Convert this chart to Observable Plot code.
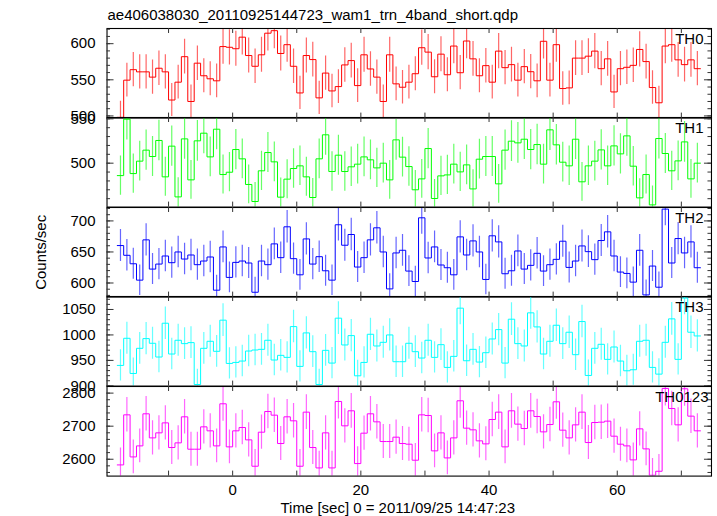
<!DOCTYPE html>
<html><head><meta charset="utf-8">
<script src="https://cdn.jsdelivr.net/npm/d3@7"></script>
<script src="https://cdn.jsdelivr.net/npm/@observablehq/plot@0.6"></script>
<style>
html,body{margin:0;padding:0;background:#fff;}
#chart{position:relative;width:717px;height:516px;overflow:hidden;}
</style></head><body><div id="chart"></div>
<script>
const title = "ae406038030_20110925144723_wam1_trn_4band_short.qdp";
const xLabel = "Time [sec] 0 = 2011/09/25 14:47:23";
const yLabel = "Counts/sec";
const bandNames = ["TH0", "TH1", "TH2", "TH3", "TH0123"];
const bandColors = ["#ff0000", "#00ff00", "#0000ff", "#00ffff", "#ff00ff"];

const timeCenters = [-17.5,-16.5,-15.5,-14.5,-13.5,-12.5,-11.5,-10.5,-9.5,-8.5,-7.5,-6.5,-5.5,-4.5,-3.5,-2.5,-1.5,-0.5,
 0.5,1.5,2.5,3.5,4.5,5.5,6.5,7.5,8.5,9.5,10.5,11.5,12.5,13.5,14.5,15.5,16.5,17.5,18.5,19.5,20.5,21.5,22.5,23.5,24.5,25.5,
 26.5,27.5,28.5,29.5,30.5,31.5,32.5,33.5,34.5,35.5,36.5,37.5,38.5,39.5,40.5,41.5,42.5,43.5,44.5,45.5,46.5,47.5,48.5,49.5,
 50.5,51.5,52.5,53.5,54.5,55.5,56.5,57.5,58.5,59.5,60.5,61.5,62.5,63.5,64.5,65.5,66.5,67.5,68.5,69.5,70.5,71.5,72.5];

const th0 = [498,549.5,564,561,561,553.7,566,561,522,546.7,
 582,520,573,555.6,551.4,548.6,596,595,593,609,
 583.6,568.7,584.6,614.5,618,586.4,598.6,568.7,531.8,583.6,
 578,525,559.3,534.6,540.6,570.6,576.6,542,584.6,565,
 553.7,520,584.6,544.4,539.7,546.7,558.4,594.4,588.3,554.2,
 585.5,557,596.7,559.8,603.7,579,555.6,569.6,546.7,589.7,
 566.8,571,549.5,568.2,561.2,548.6,603.3,549.5,598.6,537.9,
 538.8,580,580,582.7,589.7,565.4,579,533.2,565.4,567.3,
 570,592,575.2,539.3,518.2,596.7,598.6,577.6,571,577.6,
 565.4];
const th1 = [486,549.6,488.3,502.3,514.7,507.5,525.6,484.6,519.2,462,
 527.4,481.2,525.2,533.8,507.1,538.3,487.2,489.8,515.4,504.9,
 476,456.8,491.4,512,501.5,461.7,482,494,497,484.6,
 461.3,504.9,532,490.6,509,490.6,495.9,498.9,507.1,503.8,
 494.7,500,481.2,526.3,506.8,496.2,470,482.3,516.5,460.2,
 485.7,486.8,498.9,490.2,498.1,471,504.5,507.5,507.5,476.7,
 514.7,524.8,522.9,527,515.4,521,498.9,537.6,520.7,501.1,
 497,527,479,497,502.3,515,497,519.5,510.5,530.8,
 496.6,460.9,487.2,453,527.8,510.9,491.4,502.6,524,482.3,
 500];
const th2 = [660.3,644.6,631,604.6,669.5,622.4,630.5,643.5,632.7,650,
 638.6,645.1,629.5,635.4,641.9,588.4,658.1,609,633.2,635.4,
 632.2,585.1,635.4,629.5,663,640.8,690.5,639.2,613.2,671,
 630.5,642.4,619.7,604.6,693.8,660.8,678.1,625.7,640.8,669.5,
 688.9,650,590.5,648.4,652.7,619.2,602.4,705,640.3,658.1,
 629,624.6,613.2,674.3,645.1,667.8,650,605.7,676,666.2,
 614.9,619.7,651.6,622.4,628.4,647.8,619.2,629.5,638.1,667.3,
 625.1,635.4,659.7,650.5,637.6,668.4,682.4,643.5,617.6,615.4,
 601.4,652.7,580.8,627.3,593.2,719,632.2,671.6,648.4,666.2,
 624.6];
const th3 = [940.1,993.4,924.3,973.7,992.8,983.6,956.6,1023,962.5,989.5,
 982.9,984.9,902.6,973.7,987.5,967.8,1029,944,946,948.7,
 968.4,970.4,971.7,989.5,950.7,959.9,955.9,1016.4,938.2,1004,
 967.1,902.6,969.7,944.7,1032.9,980.3,998.7,919.7,946,1001.3,
 978.3,985.5,1000,947.4,947.4,983.6,967.1,954.6,989.5,955.9,
 980.9,936.2,957.9,1052.6,949.3,971.7,946.7,965.1,992.1,1010.5,
 944.7,1030.9,982.9,978.3,1043.4,1015.8,962.5,987.5,1019,982.9,
 1005.3,961.2,1026.3,920.4,973.7,981.6,952,976.3,948.7,929.6,
 931.6,987.5,989.5,936.2,923,985.5,1031.6,952,1072.4,1005.3,
 998];
const th0123 = [2582.8,2734.3,2607,2640.4,2737.4,2664.6,2679.8,2710,2635.4,2649.5,
 2728.3,2630.3,2630.3,2698,2685.9,2640.4,2767.7,2637.4,2685.9,2696,
 2658.6,2578.8,2681.8,2744.4,2733.3,2647.5,2728.3,2716.2,2578.8,2742.4,
 2635.4,2573.7,2679.8,2573.7,2774.7,2701,2746.5,2586.9,2678.8,2737.4,
 2713.1,2653.5,2653.5,2666.7,2647.5,2645.5,2597,2734.3,2732.3,2625.3,
 2679.8,2604,2664.6,2776.8,2694,2688.9,2655.6,2646.5,2720.2,2742.4,
 2637.4,2746.5,2706.1,2692.9,2746.5,2729.3,2682.8,2705,2773.7,2687.9,
 2664.6,2704,2742.4,2650.5,2711.1,2712.1,2715.2,2669.7,2645.5,2640.4,
 2598,2691.9,2631.3,2551.5,2563.6,2814.1,2753.5,2704,2813.1,2730.3,
 2685.9];

const yDomains = [[497, 621], [450.5, 551.5], [577.3, 721.6], [899.5, 1075.5], [2549, 2820]];
const yMajorTicks = [[500, 550, 600], [500, 550], [600, 650, 700], [900, 950, 1000, 1050], [2600, 2700, 2800]];
const yMinorStep = [10, 10, 10, 10, 20];
const xDomain = [-19.6, 74.7];
const xTickLabels = [0, 20, 40, 60];
const xTicks = [-10, 0, 10, 20, 30, 40, 50, 60, 70];

const series = [th0, th1, th2, th3, th0123];
const FONT = "'Liberation Sans', Arial, Helvetica, sans-serif";
const W = 717, ML = 106.5, MR = 6, TOP = 27.5, PH = 89.6;
const FW = W - ML - MR;
const root = document.getElementById("chart");
const halfBin = (timeCenters[1] - timeCenters[0]) / 2;

series.forEach((vals, i) => {
  const color = bandColors[i];
  const data = vals.map((v, j) => ({t: timeCenters[j], v, e: Math.sqrt(v)}));
  const steps = data.map(d => ({x: d.t - halfBin, y: d.v}));
  steps.push({x: data[data.length - 1].t + halfBin, y: data[data.length - 1].v});
  const [y0, y1] = yDomains[i];
  const minor = d3.range(Math.ceil(y0 / yMinorStep[i]) * yMinorStep[i], y1, yMinorStep[i]);
  const isLast = i === series.length - 1;
  const mb = isLast ? 40 : 0;
  const marks = [
    Plot.ruleX(data, {x: "t", y1: d => d.v - d.e, y2: d => d.v + d.e, stroke: color, strokeOpacity: 0.6, strokeWidth: 1.2, clip: true}),
    Plot.line(steps, {x: "x", y: "y", curve: "step-after", stroke: color, strokeWidth: 1, clip: true}),
    Plot.frame({stroke: "#000", strokeWidth: 1.1}),
    Plot.tickY(minor, {y: d => d, insetRight: FW - 3.5, stroke: "#333"}),
    Plot.tickY(minor, {y: d => d, insetLeft: FW - 3.5, stroke: "#333"}),
    Plot.tickY(yMajorTicks[i], {y: d => d, insetRight: FW - 7, stroke: "#333"}),
    Plot.tickY(yMajorTicks[i], {y: d => d, insetLeft: FW - 7, stroke: "#333"}),
    Plot.tickX(xTicks, {x: d => d, insetBottom: PH - 5, stroke: "#333"}),
    Plot.tickX(xTicks, {x: d => d, insetTop: PH - 5, stroke: "#333"}),
    Plot.axisY({ticks: yMajorTicks[i], tickSize: 0, tickPadding: 11.5, fontSize: 15, label: null, tickFormat: d => `${d}`}),
    Plot.text([bandNames[i]], {frameAnchor: "top-right", dx: isLast ? -3 : -8, dy: 10.5, textAnchor: "end", lineAnchor: "middle", fontSize: 15})
  ];
  if (i === 0) marks.push(Plot.text([title], {frameAnchor: "top-left", dx: 0.5, dy: -13.5, textAnchor: "start", lineAnchor: "middle", fontSize: 15}));
  if (i === 2) marks.push(Plot.text([yLabel], {frameAnchor: "left", dx: -(ML - 41), rotate: -90, textAnchor: "middle", lineAnchor: "middle", fontSize: 15}));
  if (isLast) {
    marks.push(Plot.axisX({ticks: xTickLabels, tickSize: 0, tickPadding: 8, fontSize: 15, label: null, tickFormat: d => `${d}`}));
    marks.push(Plot.text([xLabel], {frameAnchor: "bottom", dx: -11.5, dy: 32.5, textAnchor: "middle", lineAnchor: "middle", fontSize: 15}));
  }
  const svg = Plot.plot({
    width: W, height: PH + mb,
    marginLeft: ML, marginRight: MR, marginTop: 0, marginBottom: mb,
    x: {domain: xDomain, axis: null},
    y: {domain: yDomains[i], axis: null},
    style: {fontFamily: FONT, fontSize: "15px", background: "none", overflow: "visible", color: "#000"},
    marks
  });
  svg.style.position = "absolute";
  svg.style.left = "0px";
  svg.style.top = (TOP + i * PH) + "px";
  svg.style.overflow = "visible";
  svg.style.maxWidth = "none";
  root.appendChild(svg);
});
</script></body></html>
